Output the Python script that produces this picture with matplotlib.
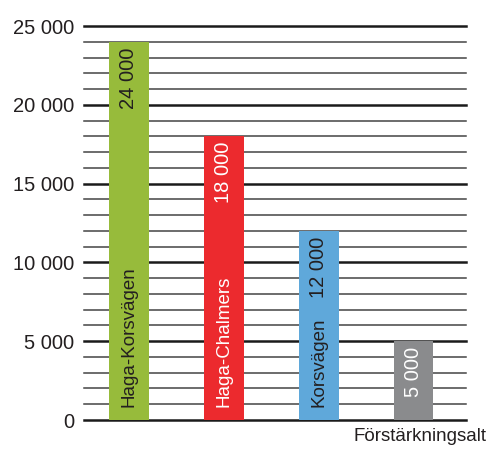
import matplotlib
matplotlib.use("Agg")
import matplotlib.pyplot as plt

categories = ["Haga-Korsvägen", "Haga-Chalmers", "Korsvägen", "Förstärkningsalt"]
values = [24000, 18000, 12000, 5000]
value_labels = ["24 000", "18 000", "12 000", "5 000"]
bar_colors = ["#97bb3b", "#ec2a2e", "#5fa8da", "#8a8b8d"]
text_colors = ["#231f20", "white", "#231f20", "white"]
yticks = [0, 5000, 10000, 15000, 20000, 25000]
ytick_labels = ["0", "5 000", "10 000", "15 000", "20 000", "25 000"]

plt.rcParams["font.family"] = ["Liberation Sans", "DejaVu Sans"]

fig = plt.figure(figsize=(4.89, 4.49), dpi=100)
ax = fig.add_axes([84 / 489, 1 - 420 / 449, (466 - 84) / 489, (420 - 26) / 449])

# grid: thin every 1000, heavy every 5000
for v in range(0, 25001, 1000):
    if v % 5000 == 0:
        ax.axhline(v, color="#1a1a1a", linewidth=1.8, zorder=1, clip_on=False)
    else:
        ax.axhline(v, color="#444444", linewidth=1.1, zorder=1, clip_on=False)

x = list(range(len(categories)))
ax.bar(x, values, width=0.415, color=bar_colors, zorder=2)

for i, (cat, val, vl, tc) in enumerate(zip(categories, values, value_labels, text_colors)):
    ax.text(i, val - 350, vl, rotation=90, ha="center", va="top",
            color=tc, fontsize=14.5, zorder=3)
    if i < 3:
        ax.text(i, 800, cat, rotation=90, ha="center", va="bottom",
                color=tc, fontsize=13.5, zorder=3)

fig.text(487 / 489, 1 - 428 / 449, categories[3], ha="right", va="top",
         fontsize=13.5, color="#231f20")

ax.set_xlim(-0.474, 3.55)
ax.set_ylim(0, 25000)
ax.set_yticks(yticks)
ax.set_yticklabels(ytick_labels, fontsize=14.5, color="#231f20")
ax.tick_params(axis="y", length=0, pad=7)
ax.set_xticks([])
for s in ax.spines.values():
    s.set_visible(False)

fig.savefig("out.png", dpi=100)
